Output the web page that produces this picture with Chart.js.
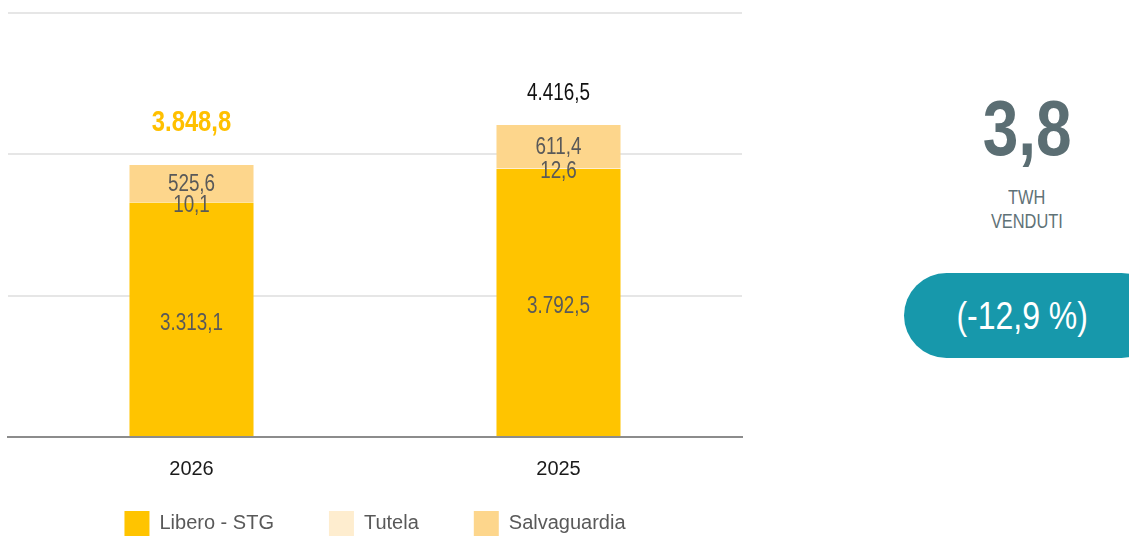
<!DOCTYPE html>
<html><head><meta charset="utf-8">
<script src="https://cdn.jsdelivr.net/npm/chart.js@4/dist/chart.umd.min.js"></script>
<style>
html,body{margin:0;padding:0;width:1129px;height:536px;overflow:hidden;background:#fff;font-family:'Liberation Sans',Arial,sans-serif;}
#wrap{position:absolute;left:0;top:0;width:750px;height:583px;}
.narrow{display:inline-block;transform:scaleX(0.82);transform-origin:center;}
#big{position:absolute;left:927px;width:200px;top:84px;text-align:center;font-weight:bold;font-size:78px;color:#5b6e73;line-height:88px;}
#unit{position:absolute;left:927px;width:200px;top:185px;text-align:center;font-size:20px;color:#5f7277;line-height:24px;}
#pill{position:absolute;left:904px;top:273px;width:260px;height:85px;border-radius:43px;background:#1798ab;}
#pilltxt{position:absolute;left:904px;top:273px;width:236px;height:85px;line-height:85px;text-align:center;color:#fff;font-size:39px;}
</style></head>
<body>
<div id="wrap"><canvas id="c"></canvas></div>
<div id="big"><span class="narrow">3,8</span></div>
<div id="unit"><span class="narrow">TWH</span><br><span class="narrow">VENDUTI</span></div>
<div id="pill"></div>
<div id="pilltxt"><span class="narrow">(-12,9 %)</span></div>
<script>
const categories = ['2026', '2025'];
const libero = [3313.1, 3792.5];
const tutela = [10.1, 12.6];
const salvaguardia = [525.6, 611.4];
const totals = [3848.8, 4416.5];
const seriesNames = ['Libero - STG', 'Tutela', 'Salvaguardia'];
const yTicks = [0, 2000, 4000, 6000];

const FONT = "'Liberation Sans', Arial, sans-serif";
function fmtIt(v){
  const s = v.toFixed(1).split('.');
  return s[0].replace(/\B(?=(\d{3})+(?!\d))/g, '.') + ',' + s[1];
}
function narrowText(ctx, txt, x, y){
  ctx.save();
  ctx.translate(x, y);
  ctx.scale(0.82, 1);
  ctx.fillText(txt, 0, 0);
  ctx.restore();
}

const labelPlugin = {
  id: 'labels',
  afterLayout(chart){
    const lg = chart.legend;
    if (lg) { lg.top -= 37; lg.bottom -= 37; }
  },
  afterDatasetsDraw(chart){
    const ctx = chart.ctx;
    ctx.save();
    ctx.textAlign = 'center';
    ctx.textBaseline = 'middle';
    chart.data.datasets.forEach((ds, di) => {
      const meta = chart.getDatasetMeta(di);
      meta.data.forEach((bar, i) => {
        const v = ds.data[i];
        let y = (bar.y + bar.base) / 2 + 1;
        if (di === 0) y += 3;
        if (di === 1) y = bar.base + 3;
        ctx.font = '23px ' + FONT;
        ctx.fillStyle = '#595959';
        narrowText(ctx, fmtIt(v), bar.x, y);
      });
    });
    const top = chart.getDatasetMeta(2);
    top.data.forEach((bar, i) => {
      if (i === 0) {
        ctx.font = 'bold 29px ' + FONT;
        ctx.fillStyle = '#ffc000';
        narrowText(ctx, fmtIt(totals[i]), bar.x, bar.y - 42);
      } else {
        ctx.font = '23px ' + FONT;
        ctx.fillStyle = '#111111';
        narrowText(ctx, fmtIt(totals[i]), bar.x, bar.y - 31);
      }
    });
    ctx.restore();
  }
};

new Chart(document.getElementById('c'), {
  type: 'bar',
  data: {
    labels: categories,
    datasets: [
      {label: seriesNames[0], data: libero, backgroundColor: '#ffc400'},
      {label: seriesNames[1], data: tutela, backgroundColor: '#feedcf'},
      {label: seriesNames[2], data: salvaguardia, backgroundColor: '#fdd68c'}
    ]
  },
  options: {
    responsive: true,
    maintainAspectRatio: false,
    animation: false,
    devicePixelRatio: 1,
    layout: {padding: {left: 8, right: 8, top: 13, bottom: 0}},
    datasets: {bar: {categoryPercentage: 1, barPercentage: 0.338}},
    scales: {
      x: {
        stacked: true,
        grid: {display: false},
        border: {display: true, color: '#8c8c8c', width: 2},
        ticks: {color: '#1a1a1a', font: {family: FONT, size: 20}, padding: 12}
      },
      y: {
        stacked: true,
        min: 0, max: 6000,
        afterBuildTicks: s => { s.ticks = yTicks.map(v => ({value: v})); },
        ticks: {display: false},
        grid: {color: '#e6e6e6', lineWidth: 2, drawTicks: false},
        border: {display: false}
      }
    },
    plugins: {
      legend: {
        position: 'bottom',
        labels: {
          boxWidth: 25, boxHeight: 25, padding: 55,
          color: '#595959', font: {family: FONT, size: 20}
        }
      },
      tooltip: {enabled: false}
    }
  },
  plugins: [labelPlugin]
});
</script>
</body></html>
